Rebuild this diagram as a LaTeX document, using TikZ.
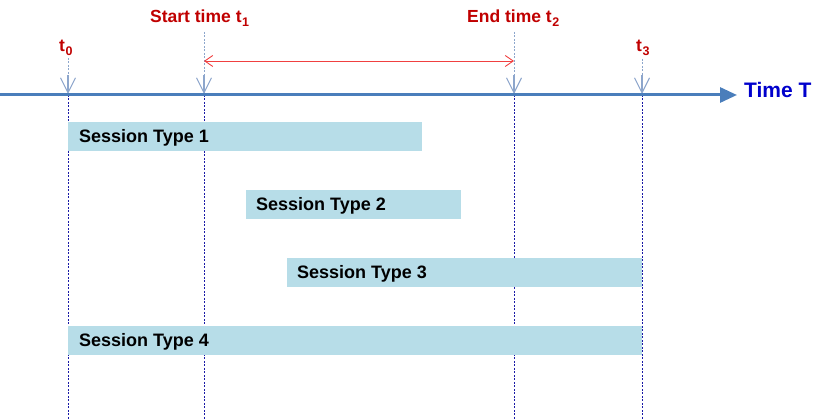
\documentclass[tikz,border=0pt]{standalone}
\usepackage{fontspec}
\setmainfont{Liberation Sans}
\usetikzlibrary{arrows.meta,calc}
\definecolor{axisblue}{HTML}{4A7EBB}
\definecolor{lblred}{HTML}{C00000}
\definecolor{barblue}{HTML}{B7DDE8}
\definecolor{tickblue}{HTML}{8DA6CC}
\definecolor{guideblue}{HTML}{1A1AA6}
\definecolor{spanred}{HTML}{F04040}
\definecolor{timeblue}{HTML}{0000CC}
\newcommand\tsubx[1]{\kern0.5pt\raisebox{-3.5pt}{\fontsize{12.5}{13}\selectfont\bfseries #1}}
\begin{document}
\begin{tikzpicture}[x=1pt,y=-1pt,
  guide/.style={guideblue, line width=0.8pt, dash pattern=on 2pt off 1.5pt},
  tickline/.style={tickblue, line width=0.8pt, dash pattern=on 2pt off 1.5pt},
  tickhead/.style={tickblue, line width=1.1pt, -{Straight Barb[length=15pt,width=15pt]}},
  bar/.style={fill=barblue, draw=none},
  bartext/.style={anchor=base west, inner sep=0pt, font=\fontsize{18}{21}\selectfont\bfseries, text=black},
  redlbl/.style={anchor=base west, inner sep=0pt, font=\fontsize{17.5}{20}\selectfont\bfseries, text=lblred}]
\useasboundingbox (0,0) rectangle (828,419);
% coordinates
\coordinate (a0) at (68,95);  \coordinate (b0) at (68,419); \coordinate (c0) at (68,58);
\coordinate (a1) at (204,95); \coordinate (b1) at (204,419); \coordinate (c1) at (204,32);
\coordinate (a2) at (514,95); \coordinate (b2) at (514,419); \coordinate (c2) at (514,32);
\coordinate (a3) at (642,95); \coordinate (b3) at (642,419); \coordinate (c3) at (642,59);
\coordinate (r1) at (204,61); \coordinate (r2) at (514,61);
\coordinate (ax0) at (0,95); \coordinate (ax1) at (737,95);
% guides below axis
\foreach \i in {0,1,2,3} {\draw[guide] (a\i) -- (b\i);}
% ticks above axis
\foreach \i in {0,1,2,3} {\draw[tickline] (c\i) -- (a\i); \draw[tickhead] ($(a\i)+(0,-20)$) -- ($(a\i)+(0,-1)$);}
% bars
\fill[bar] (68,122) rectangle (422,151);
\fill[bar] (246,190) rectangle (461,219);
\fill[bar] (287,258) rectangle (642,287);
\fill[bar] (68,326) rectangle (642,355);
\node[bartext] (s1) at (79,143) {Session Type 1};
\node[bartext] (s2) at (256,211) {Session Type 2};
\node[bartext] (s3) at (297,279) {Session Type 3};
\node[bartext] (s4) at (79,347) {Session Type 4};
% axis
\draw[axisblue, line width=3pt, -{Triangle[length=17pt,width=15pt]}] (ax0) -- (ax1);
\node[anchor=base west, inner sep=0pt, font=\fontsize{21}{24}\selectfont\bfseries, text=timeblue] (tt) at (744,98) {Time T};
% red span arrow
\draw[spanred, line width=0.9pt, {Straight Barb[length=8pt,width=11pt]}-{Straight Barb[length=8pt,width=11pt]}] (r1) -- (r2);
% labels
\node[redlbl] (l1) at (150,23) {Start time t\tsubx{1}};
\node[redlbl] (l2) at (467,23) {End time t\tsubx{2}};
\node[redlbl] (l0) at (59,52) {t\tsubx{0}};
\node[redlbl] (l3) at (636,52) {t\tsubx{3}};
\end{tikzpicture}
\end{document}
